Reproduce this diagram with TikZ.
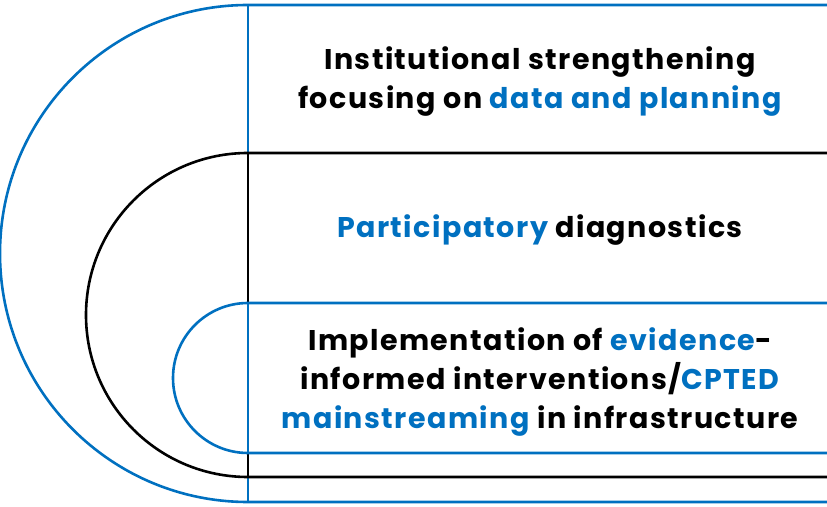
\documentclass[tikz,border=0pt]{standalone}
\usepackage{fontspec}
\setmainfont{Poppins}[LetterSpace=5]
\definecolor{ablue}{HTML}{0070C0}
\begin{document}
\begin{tikzpicture}[x=1pt,y=1pt,
    bluepart/.style={draw=ablue,line width=2.6pt},
    blackpart/.style={draw=black,line width=2.6pt},
    lbl/.style={font=\bfseries\fontsize{28.5}{39}\selectfont,align=center}]
    \useasboundingbox (0,0) rectangle (827,506);
    \clip (0,0) rectangle (827,506);
    % outer band
    \draw [bluepart] (860,501)--(248,501) arc (90:270:248 and 248.5)--(860,4);
    \draw [bluepart] (248,501)--(248,4);
    % middle band
    \draw [blackpart] (860,353)--(248,353) arc (90:270:162)--(860,29);
    \draw [blackpart] (248,353)--(248,29);
    % inner band
    \draw [bluepart] (860,203)--(248,203) arc (90:270:75)--(860,53);
    \draw [bluepart] (248,203)--(248,53);
    % labels
    \node [lbl] (planning) at (540,424) {Institutional strengthening\\focusing on \textcolor{ablue}{data and planning}};
    \node [lbl] (diagnostics) at (540,276) {\textcolor{ablue}{Participatory} diagnostics};
    \node [lbl] (interventions) at (540,124) {Implementation of \textcolor{ablue}{evidence}-\\informed interventions/\textcolor{ablue}{CPTED}\\\textcolor{ablue}{mainstreaming} in infrastructure};
\end{tikzpicture}
\end{document}
